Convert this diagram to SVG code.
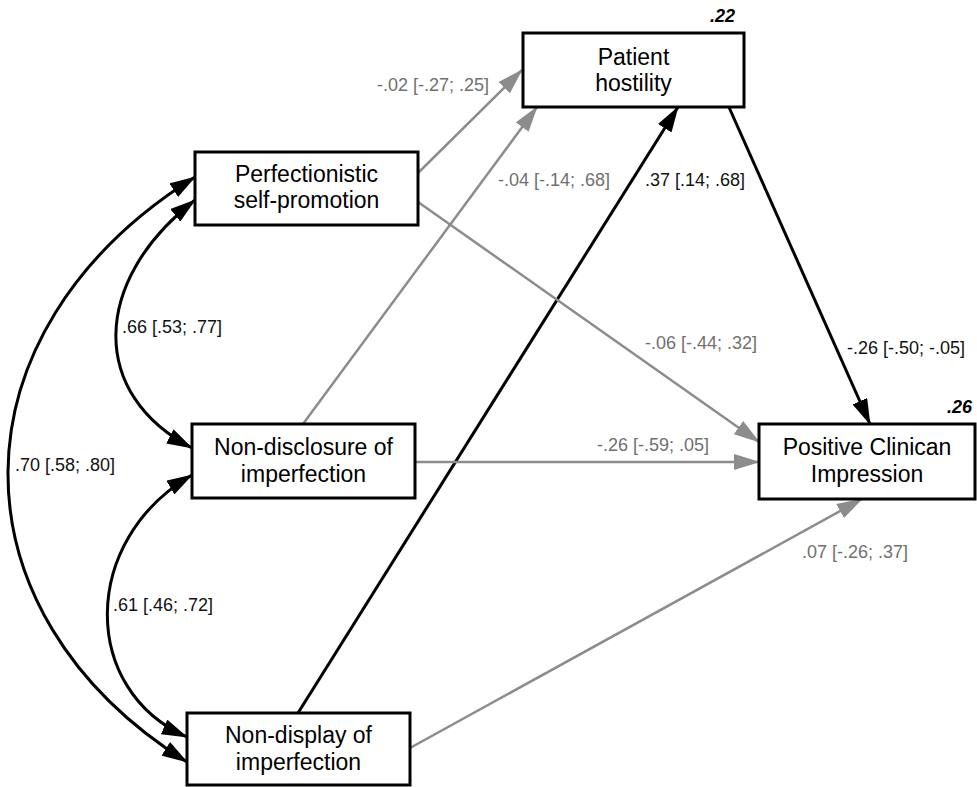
<svg xmlns="http://www.w3.org/2000/svg" width="977" height="787" viewBox="0 0 977 787">
<style>
.box{fill:#fff;stroke:#000;stroke-width:3}
.nt{font-family:"Liberation Sans",Arial,sans-serif;font-size:23px;fill:#000;text-anchor:middle}
.lb{font-family:"Liberation Sans",Arial,sans-serif;font-size:18px}
.lk{fill:#111}
.lg{fill:#707070}
.r2{font-family:"Liberation Sans",Arial,sans-serif;font-size:18px;font-weight:bold;font-style:italic;fill:#000;text-anchor:end}
.cb{fill:none;stroke:#000;stroke-width:3}
.cg{fill:none;stroke:#8c8c8c;stroke-width:2.5}
</style>
<defs>
<marker id="ab" markerUnits="userSpaceOnUse" markerWidth="26" markerHeight="16" refX="25" refY="8" orient="auto-start-reverse"><path d="M0,0 L26,8 L0,16 z" fill="#000"/></marker>
<marker id="ag" markerUnits="userSpaceOnUse" markerWidth="26" markerHeight="16" refX="25" refY="8" orient="auto"><path d="M0,0 L26,8 L0,16 z" fill="#8c8c8c"/></marker>
</defs>
<rect width="977" height="787" fill="#fff"/>
<g id="connectors">
<path class="cg" d="M418,173 L522,70" marker-end="url(#ag)"/>
<path class="cg" d="M303,424 L537,107" marker-end="url(#ag)"/>
<path class="cb" d="M298,713 L678,107" marker-end="url(#ab)"/>
<path class="cb" d="M728,105 L870,424" marker-end="url(#ab)"/>
<path class="cg" d="M418,202 L759,442" marker-end="url(#ag)"/>
<path class="cg" d="M415,462 L759,462" marker-end="url(#ag)"/>
<path class="cg" d="M410,748 L862,499" marker-end="url(#ag)"/>
<path class="cb" d="M195,200 C90,282 90,395 192,448" marker-start="url(#ab)" marker-end="url(#ab)"/>
<path class="cb" d="M192,475 C80,540 80,690 187,737" marker-start="url(#ab)" marker-end="url(#ab)"/>
<path class="cb" d="M195,177 C-53,332 -53,612 187,762" marker-start="url(#ab)" marker-end="url(#ab)"/>
<text class="lb lg" x="377" y="91">-.02 [-.27; .25]</text>
<text class="lb lg" x="498" y="186">-.04 [-.14; .68]</text>
<text class="lb lk" x="645" y="186">.37 [.14; .68]</text>
<text class="lb lk" x="122" y="333">.66 [.53; .77]</text>
<text class="lb lg" x="645" y="349">-.06 [-.44; .32]</text>
<text class="lb lk" x="847" y="354">-.26 [-.50; -.05]</text>
<text class="lb lg" x="597" y="451">-.26 [-.59; .05]</text>
<text class="lb lk" x="15" y="471">.70 [.58; .80]</text>
<text class="lb lg" x="802" y="558">.07 [-.26; .37]</text>
<text class="lb lk" x="113" y="611">.61 [.46; .72]</text>
</g>
<g id="patient-hostility">
<rect class="box" x="523" y="33" width="221" height="74"/>
<text class="nt" x="633.5" y="65">Patient</text>
<text class="nt" x="633.5" y="91">hostility</text>
<text class="r2" x="735" y="22">.22</text>
</g>
<g id="perfectionistic-self-promotion">
<rect class="box" x="195" y="152" width="223" height="73"/>
<text class="nt" x="306.5" y="182">Perfectionistic</text>
<text class="nt" x="306.5" y="208">self-promotion</text>
</g>
<g id="non-disclosure">
<rect class="box" x="192" y="424" width="223" height="74"/>
<text class="nt" x="303.5" y="455">Non-disclosure of</text>
<text class="nt" x="303.5" y="482">imperfection</text>
</g>
<g id="non-display">
<rect class="box" x="187" y="713" width="223" height="72"/>
<text class="nt" x="298.5" y="743">Non-display of</text>
<text class="nt" x="298.5" y="770">imperfection</text>
</g>
<g id="positive-clinician-impression">
<rect class="box" x="759" y="424" width="216" height="75"/>
<text class="nt" x="867" y="455">Positive Clinican</text>
<text class="nt" x="867" y="482">Impression</text>
<text class="r2" x="972" y="413">.26</text>
</g>
</svg>
